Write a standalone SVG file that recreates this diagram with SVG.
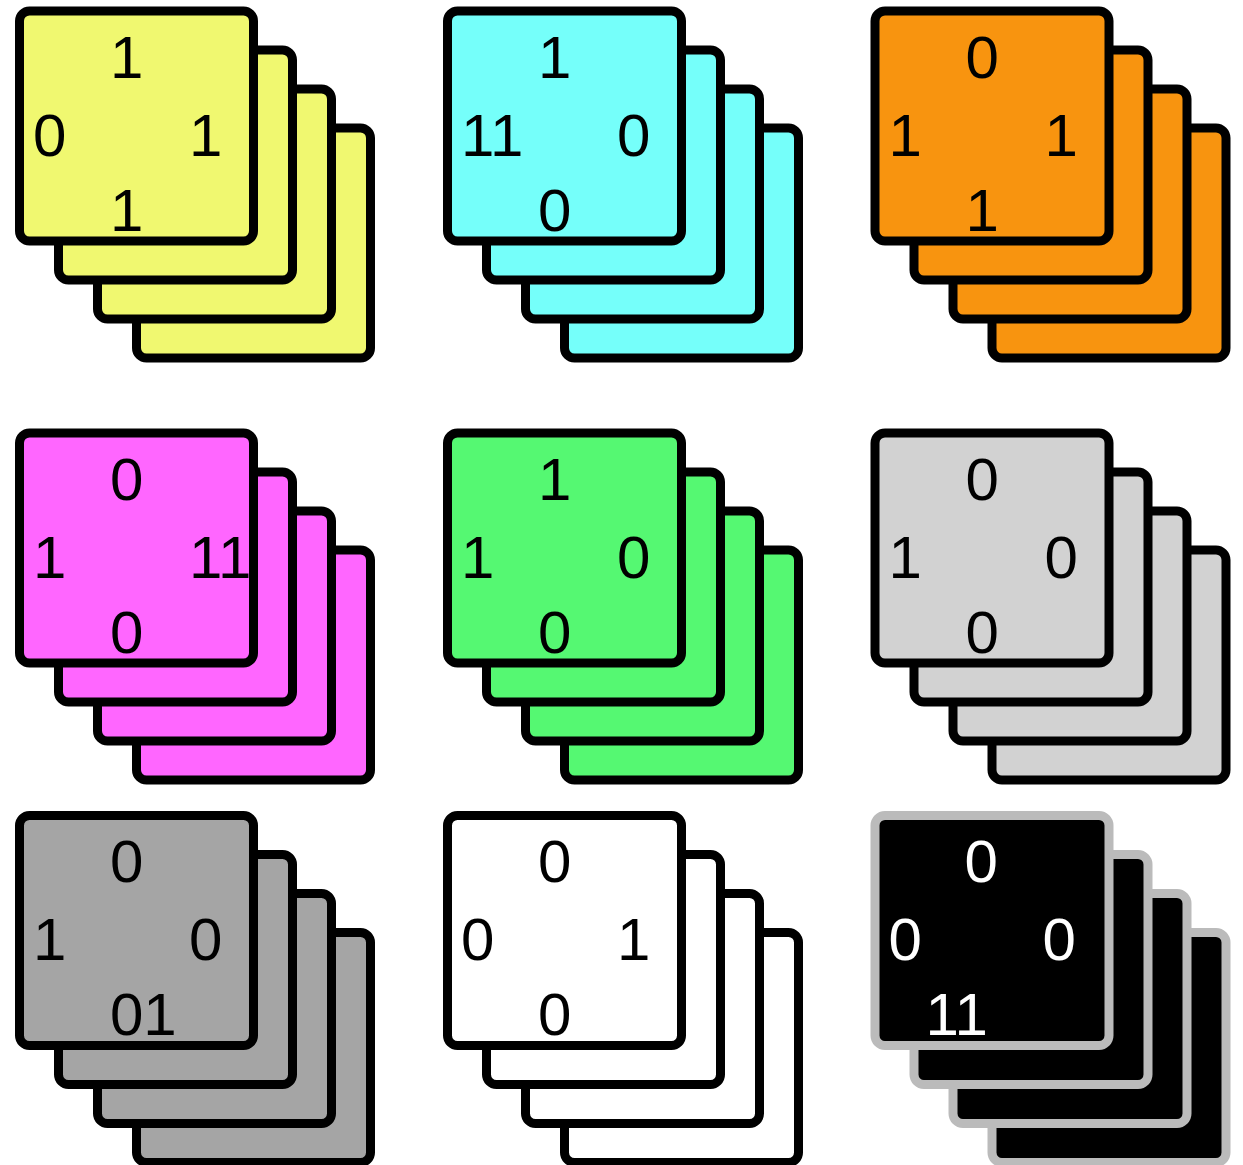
<svg xmlns="http://www.w3.org/2000/svg" width="1243" height="1165" viewBox="0 0 1243 1165">
<style>
  rect.c { stroke: #000; stroke-width: 9; }
  .yellow rect.c { fill: #F0F870; }
  .cyan rect.c { fill: #75FFFA; }
  .orange rect.c { fill: #F8940F; }
  .pink rect.c { fill: #FF66FF; }
  .green rect.c { fill: #55F872; }
  .lgray rect.c { fill: #D2D2D2; }
  .gray rect.c { fill: #A5A5A5; }
  .white rect.c { fill: #FFFFFF; }
  .black rect.c { fill: #000000; stroke: #BBBBBB; }
  text { font-family: "Liberation Sans", Arial, sans-serif; font-size: 60px; fill: #000; }
  .black text { fill: #FFFFFF; }
</style>
<rect width="1243" height="1165" fill="#FFFFFF"/>

<g id="stack-yellow" class="yellow" transform="translate(15,6.5)">
  <rect class="c" x="121.5" y="121.5" width="234" height="230" rx="10"/>
  <rect class="c" x="82.5" y="82.5" width="234" height="230" rx="10"/>
  <rect class="c" x="43.5" y="43.5" width="234" height="230" rx="10"/>
  <rect class="c" x="4.5" y="4.5" width="234" height="230" rx="10"/>
  <text x="95" y="71">1</text>
  <text x="18" y="149">0</text>
  <text x="174" y="149">1</text>
  <text x="95" y="224">1</text>
</g>

<g id="stack-cyan" class="cyan" transform="translate(443,6.5)">
  <rect class="c" x="121.5" y="121.5" width="234" height="230" rx="10"/>
  <rect class="c" x="82.5" y="82.5" width="234" height="230" rx="10"/>
  <rect class="c" x="43.5" y="43.5" width="234" height="230" rx="10"/>
  <rect class="c" x="4.5" y="4.5" width="234" height="230" rx="10"/>
  <text x="95" y="71">1</text>
  <text x="18" y="149">11</text>
  <text x="174" y="149">0</text>
  <text x="95" y="224">0</text>
</g>

<g id="stack-orange" class="orange" transform="translate(870.5,6.5)">
  <rect class="c" x="121.5" y="121.5" width="234" height="230" rx="10"/>
  <rect class="c" x="82.5" y="82.5" width="234" height="230" rx="10"/>
  <rect class="c" x="43.5" y="43.5" width="234" height="230" rx="10"/>
  <rect class="c" x="4.5" y="4.5" width="234" height="230" rx="10"/>
  <text x="95" y="71">0</text>
  <text x="18" y="149">1</text>
  <text x="174" y="149">1</text>
  <text x="95" y="224">1</text>
</g>

<g id="stack-pink" class="pink" transform="translate(15,428.5)">
  <rect class="c" x="121.5" y="121.5" width="234" height="230" rx="10"/>
  <rect class="c" x="82.5" y="82.5" width="234" height="230" rx="10"/>
  <rect class="c" x="43.5" y="43.5" width="234" height="230" rx="10"/>
  <rect class="c" x="4.5" y="4.5" width="234" height="230" rx="10"/>
  <text x="95" y="71">0</text>
  <text x="18" y="149">1</text>
  <text x="174" y="149">11</text>
  <text x="95" y="224">0</text>
</g>

<g id="stack-green" class="green" transform="translate(443,428.5)">
  <rect class="c" x="121.5" y="121.5" width="234" height="230" rx="10"/>
  <rect class="c" x="82.5" y="82.5" width="234" height="230" rx="10"/>
  <rect class="c" x="43.5" y="43.5" width="234" height="230" rx="10"/>
  <rect class="c" x="4.5" y="4.5" width="234" height="230" rx="10"/>
  <text x="95" y="71">1</text>
  <text x="18" y="149">1</text>
  <text x="174" y="149">0</text>
  <text x="95" y="224">0</text>
</g>

<g id="stack-lightgray" class="lgray" transform="translate(870.5,428.5)">
  <rect class="c" x="121.5" y="121.5" width="234" height="230" rx="10"/>
  <rect class="c" x="82.5" y="82.5" width="234" height="230" rx="10"/>
  <rect class="c" x="43.5" y="43.5" width="234" height="230" rx="10"/>
  <rect class="c" x="4.5" y="4.5" width="234" height="230" rx="10"/>
  <text x="95" y="71">0</text>
  <text x="18" y="149">1</text>
  <text x="174" y="149">0</text>
  <text x="95" y="224">0</text>
</g>

<g id="stack-gray" class="gray" transform="translate(15,811)">
  <rect class="c" x="121.5" y="121.5" width="234" height="230" rx="10"/>
  <rect class="c" x="82.5" y="82.5" width="234" height="230" rx="10"/>
  <rect class="c" x="43.5" y="43.5" width="234" height="230" rx="10"/>
  <rect class="c" x="4.5" y="4.5" width="234" height="230" rx="10"/>
  <text x="95" y="71">0</text>
  <text x="18" y="149">1</text>
  <text x="174" y="149">0</text>
  <text x="95" y="224">01</text>
</g>

<g id="stack-white" class="white" transform="translate(443,811)">
  <rect class="c" x="121.5" y="121.5" width="234" height="230" rx="10"/>
  <rect class="c" x="82.5" y="82.5" width="234" height="230" rx="10"/>
  <rect class="c" x="43.5" y="43.5" width="234" height="230" rx="10"/>
  <rect class="c" x="4.5" y="4.5" width="234" height="230" rx="10"/>
  <text x="95" y="71">0</text>
  <text x="18" y="149">0</text>
  <text x="174" y="149">1</text>
  <text x="95" y="224">0</text>
</g>

<g id="stack-black" class="black" transform="translate(870.5,811)">
  <rect class="c" x="121.5" y="121.5" width="234" height="230" rx="10"/>
  <rect class="c" x="82.5" y="82.5" width="234" height="230" rx="10"/>
  <rect class="c" x="43.5" y="43.5" width="234" height="230" rx="10"/>
  <rect class="c" x="4.5" y="4.5" width="234" height="230" rx="10"/>
  <text x="94" y="71">0</text>
  <text x="18" y="149">0</text>
  <text x="172" y="149">0</text>
  <text x="55" y="224">11</text>
</g>
</svg>
